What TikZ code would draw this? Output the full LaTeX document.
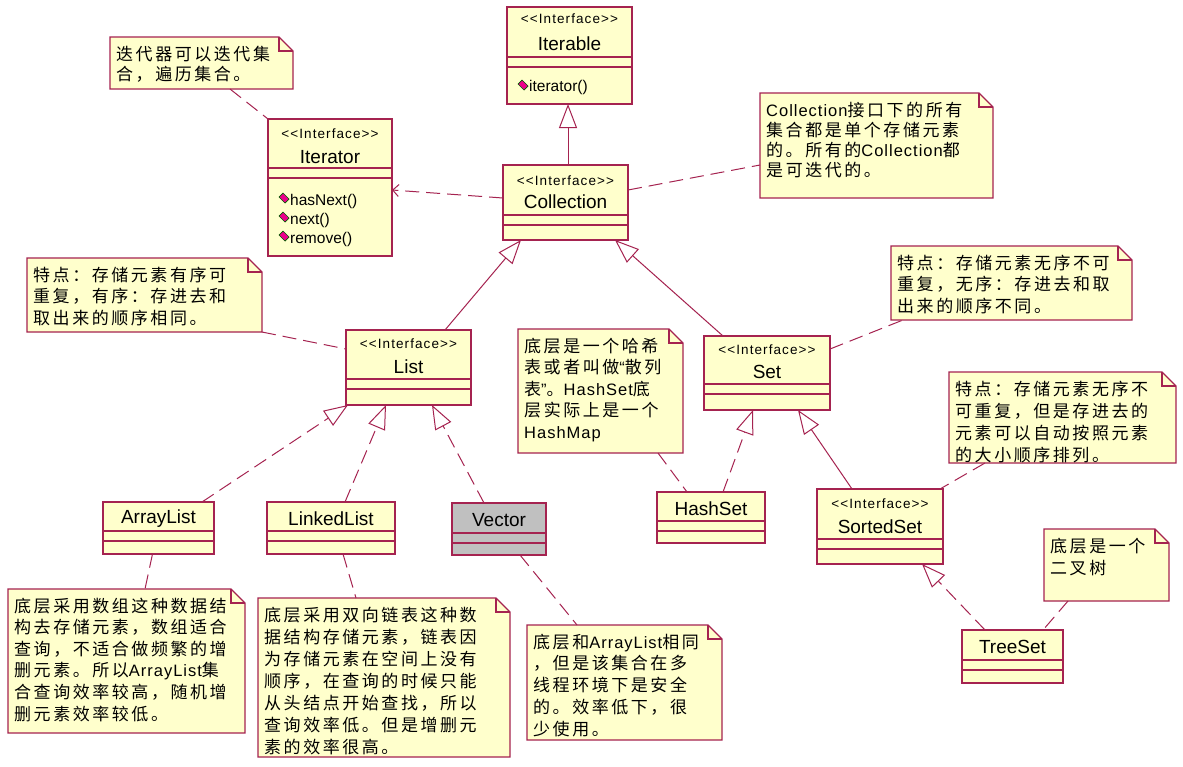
\documentclass[tikz,border=0pt]{standalone}
\usepackage{fontspec}
\setmainfont{Liberation Sans}
\newfontfamily\cjkf[LetterSpace=15]{Noto Sans CJK SC}
\newfontfamily\latf[LetterSpace=6]{Liberation Sans}
\newfontfamily\stf[LetterSpace=8]{Liberation Sans}
\usetikzlibrary{arrows.meta,calc}
\definecolor{umlred}{RGB}{165,35,80}
\definecolor{uyellow}{RGB}{255,255,204}
\definecolor{ugray}{RGB}{192,192,192}
\newcommand\en[1]{{\latf\fontsize{16.5}{21.8}\selectfont #1}}
\tikzset{
 box/.style={draw=umlred, line width=1.3pt, inner sep=0pt, outer sep=0pt, rectangle},
 sepline/.style={draw=umlred, line width=1.2pt},
 stereo/.style={font=\stf\fontsize{13.5}{16}\selectfont, inner sep=0pt},
 cname/.style={font=\fontsize{19}{22}\selectfont, inner sep=0pt},
 meth/.style={font=\fontsize{15.5}{17}\selectfont, inner sep=0pt, anchor=west},
 notebase/.style={draw=none, inner sep=0pt, outer sep=0pt, rectangle},
 noteline/.style={draw=umlred, line width=1.2pt},
 notetext/.style={align=left, inner sep=0pt, anchor=north west},
 conn/.style={draw=umlred, line width=1pt},
 dashconn/.style={conn, dash pattern=on 14pt off 7pt},
 gen/.style={-{Triangle[open, length=24pt, width=18pt, line width=1pt]}},
 dep/.style={-{Straight Barb[length=6pt, width=12pt, line width=1pt]}},
}
% class box: name, x, y, w, h, header h, fill
\newcommand\cbox[7]{%
 \node[box, fill=#7, minimum width=#4, minimum height=#5, anchor=north west] (#1) at (#2,#3) {};
 \draw[sepline] ($(#1.north west)+(0,#6)$) -- ($(#1.north east)+(0,#6)$);
 \draw[sepline] ($(#1.north west)+(0,#6+10)$) -- ($(#1.north east)+(0,#6+10)$);
}
% note: name, x1, y1, x2, y2, baselineskip, text
\newcommand\unote[7]{%
 \node[notebase, minimum width=#4-#2, minimum height=#5-#3, anchor=north west] (#1) at (#2,#3) {};
 \filldraw[noteline, fill=uyellow] (#1.north west) -- ($(#1.north east)+(-14,0)$) -- ($(#1.north east)+(0,14)$) -- (#1.south east) -- (#1.south west) -- cycle;
 \draw[noteline] ($(#1.north east)+(-14,0)$) -- ($(#1.north east)+(-14,14)$) -- ($(#1.north east)+(0,14)$);
 \node[notetext, font=\cjkf\fontsize{17}{#6}\selectfont] at ($(#1.north west)+(6,8.5)$) {#7};
}
\newcommand\micon[2]{\filldraw[draw=green!35!black, fill=magenta, line width=0.7pt] (#1-5,#2-1) -- (#1-1,#2-5) -- (#1+5,#2+1) -- (#1+1,#2+5) -- cycle;}
\begin{document}
\begin{tikzpicture}[x=1pt,y=-1pt]
\fill[white] (0,0) rectangle (1183,766);
\useasboundingbox (0,0) rectangle (1183,766);

% ---- classes ----
\cbox{iterable}{507}{7}{125}{97}{50}{uyellow}
\node[stereo] at ($(iterable.north)+(0,12)$) {{<}{<}Interface{>}{>}};
\node[cname] at ($(iterable.north)+(0,37)$) {Iterable};
\micon{523}{85}
\node[meth] at (529,87) {iterator()};

\cbox{collection}{503}{165}{125}{75}{50}{uyellow}
\node[stereo] at ($(collection.north)+(0,16)$) {{<}{<}Interface{>}{>}};
\node[cname] at ($(collection.north)+(0,37)$) {Collection};

\cbox{iterator}{268}{119}{124}{137}{49}{uyellow}
\node[stereo] at ($(iterator.north)+(0,15)$) {{<}{<}Interface{>}{>}};
\node[cname] at ($(iterator.north)+(0,38)$) {Iterator};
\micon{284}{198}
\node[meth] at (290,201) {hasNext()};
\micon{284}{217}
\node[meth] at (290,220) {next()};
\micon{284}{236}
\node[meth] at (290,239) {remove()};

\cbox{list}{346}{330}{125}{75}{49}{uyellow}
\node[stereo] at ($(list.north)+(0,14)$) {{<}{<}Interface{>}{>}};
\node[cname] at ($(list.north)+(0,37)$) {List};

\cbox{set}{704}{336}{126}{74}{48}{uyellow}
\node[stereo] at ($(set.north)+(0,14)$) {{<}{<}Interface{>}{>}};
\node[cname] at ($(set.north)+(0,36)$) {Set};

\cbox{arraylist}{103}{502}{111}{52}{29}{uyellow}
\node[cname] at ($(arraylist.north)+(0,17)$) {ArrayList};

\cbox{linkedlist}{267}{502}{128}{52}{29}{uyellow}
\node[cname] at ($(linkedlist.north)+(0,17)$) {LinkedList};

\cbox{vector}{452}{503}{94}{52}{30}{ugray}
\node[cname] at ($(vector.north)+(0,17)$) {Vector};

\cbox{hashset}{657}{492}{108}{51}{29}{uyellow}
\node[cname] at ($(hashset.north)+(0,17)$) {HashSet};

\cbox{sortedset}{817}{489}{126}{75}{50}{uyellow}
\node[stereo] at ($(sortedset.north)+(0,15)$) {{<}{<}Interface{>}{>}};
\node[cname] at ($(sortedset.north)+(0,38)$) {SortedSet};

\cbox{treeset}{962}{630}{101}{53}{30}{uyellow}
\node[cname] at ($(treeset.north)+(0,17)$) {TreeSet};

% ---- notes ----
\unote{itnote}{110}{37}{293}{89}{20}{迭代器可以迭代集\\合，遍历集合。}
\unote{colnote}{760}{93}{993}{198}{20}{\en{Collection}接口下的所有\\集合都是单个存储元素\\的。所有的\en{Collection}都\\是可迭代的。}
\unote{listnote}{27}{258}{262}{332}{21.8}{特点：存储元素有序可\\重复，有序：存进去和\\取出来的顺序相同。}
\unote{hsnote}{518}{329}{683}{453}{21.5}{底层是一个哈希\\表或者叫做\en{“}散列\\表\en{”}。\en{HashSet}底\\层实际上是一个\\\en{HashMap}}
\unote{setnote}{891}{246}{1132}{320}{21.8}{特点：存储元素无序不可\\重复，无序：存进去和取\\出来的顺序不同。}
\unote{ssnote}{949}{372}{1176}{463}{22}{特点：存储元素无序不\\可重复，但是存进去的\\元素可以自动按照元素\\的大小顺序排列。}
\unote{tsnote}{1044}{529}{1169}{601}{22.5}{底层是一个\\二叉树}
\unote{alnote}{8}{589}{245}{733}{21.6}{底层采用数组这种数据结\\构去存储元素，数组适合\\查询，不适合做频繁的增\\删元素。所以\en{ArrayList}集\\合查询效率较高，随机增\\删元素效率较低。}
\unote{llnote}{258}{598}{510}{757}{22}{底层采用双向链表这种数\\据结构存储元素，链表因\\为存储元素在空间上没有\\顺序，在查询的时候只能\\从头结点开始查找，所以\\查询效率低。但是增删元\\素的效率很高。}
\unote{vnote}{527}{625}{722}{740}{21.75}{底层和\en{ArrayList}相同\\，但是该集合在多\\线程环境下是安全\\的。效率低下，很\\少使用。}

% ---- connectors ----
\draw[conn, gen] ($(collection.north)+(2.5,0)$) -- ($(iterable.south)+(-1.5,0)$);
\draw[dashconn, dep] ($(collection.west)+(0,-4.5)$) -- ($(iterator.east)+(0,2.5)$);
\draw[dashconn] ($(itnote.south)+(28.5,0)$) -- (iterator.north west);
\draw[dashconn] ($(collection.east)+(0,-12.5)$) -- ($(colnote.west)+(0,19.5)$);
\draw[conn, gen] ($(list.north)+(36.5,0)$) -- ($(collection.south west)+(18,0)$);
\draw[conn, gen] ($(set.north west)+(19,0)$) -- ($(collection.south east)+(-13,0)$);
\draw[dashconn] (listnote.south east) -- ($(list.north west)+(0,19)$);
\draw[dashconn, gen] ($(arraylist.north)+(43.5,0)$) -- ($(list.south west)+(2,0)$);
\draw[dashconn, gen] ($(linkedlist.north)+(14,0)$) -- ($(list.south west)+(40,0)$);
\draw[dashconn, gen] ($(vector.north)+(-15,0)$) -- ($(list.south west)+(86,0)$);
\draw[dashconn] ($(set.north east)+(0,13)$) -- ($(setnote.south west)+(12,0)$);
\draw[dashconn, gen] ($(hashset.north)+(12,0)$) -- ($(set.south west)+(49,0)$);
\draw[conn, gen] ($(sortedset.north)+(-28,0)$) -- ($(set.south west)+(94,0)$);
\draw[dashconn] ($(hsnote.south west)+(140,0)$) -- ($(hashset.north west)+(30,0)$);
\draw[dashconn] ($(ssnote.south west)+(36,0)$) -- ($(sortedset.north east)+(-3,0)$);
\draw[dashconn, gen] ($(treeset.north west)+(23,0)$) -- ($(sortedset.south east)+(-21,0)$);
\draw[dashconn] ($(tsnote.south west)+(24,0)$) -- ($(treeset.north east)+(-20,0)$);
\draw[dashconn] ($(arraylist.south)+(-6,0)$) -- ($(alnote.north west)+(137,0)$);
\draw[dashconn] ($(linkedlist.south)+(12,0)$) -- ($(llnote.north west)+(98,0)$);
\draw[dashconn] ($(vector.south)+(21,0)$) -- ($(vnote.north west)+(50,0)$);
\end{tikzpicture}
\end{document}
